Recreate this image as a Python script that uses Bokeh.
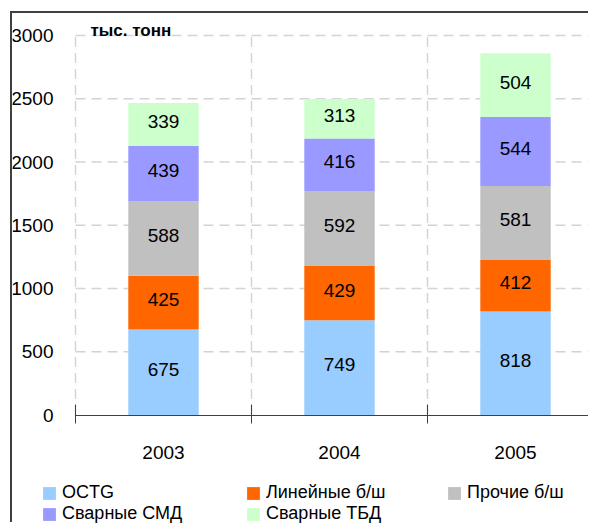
from bokeh.plotting import figure
from bokeh.models import ColumnDataSource, Range1d, FixedTicker, Legend, LegendItem, Label
from bokeh.core.properties import value
from bokeh.embed import file_html
from bokeh.resources import INLINE

# ---- data ----
years = ["2003", "2004", "2005"]
series = ["OCTG", "Линейные б/ш", "Прочие б/ш", "Сварные СМД", "Сварные ТБД"]
octg = [675, 749, 818]
lineynye = [425, 429, 412]
prochie = [588, 592, 581]
svarnye_smd = [439, 416, 544]
svarnye_tbd = [339, 313, 504]
colors = ["#99CCFF", "#FF6600", "#C0C0C0", "#9999FF", "#CCFFCC"]
y_ticks = [0, 500, 1000, 1500, 2000, 2500, 3000]
unit_label = "тыс. тонн"

FONT = "Liberation Sans"
DARK = "#404040"
GRID = "#D4D4D4"

values = [octg, lineynye, prochie, svarnye_smd, svarnye_tbd]
keys = ["s%d" % i for i in range(len(series))]
xs = [i + 0.5 for i in range(len(years))]
bounds = list(range(len(years) + 1))

data = {"x": xs}
for k, v in zip(keys, values):
    data[k] = v
src = ColumnDataSource(data)

# layout: frame covers whole canvas, axes fixed inside it
W, H = 578, 511
px_x = 176.0                     # pixels per category
px_y = 379.5 / 3000.0            # pixels per tonne
left_px, top_px, bottom_px = 63, 22, 109.5
x0 = -left_px / px_x
x1 = (W - left_px) / px_x
y0 = -bottom_px / px_y
y1 = 3000 + top_px / px_y

p = figure(width=W, height=H, x_range=Range1d(x0, x1), y_range=Range1d(y0, y1),
           output_backend="svg", toolbar_location=None,
           min_border_left=0, min_border_right=0, min_border_top=0, min_border_bottom=0)
p.margin = (11, 0, 0, 10)
p.styles = {"border-top": "2px solid " + DARK, "border-left": "2px solid " + DARK}
p.outline_line_color = None
p.background_fill_color = "white"
p.border_fill_color = "white"
p.xgrid.visible = False
p.ygrid.visible = False

# dashed grid from the tick lists
gy = [t for t in y_ticks if t > 0]
p.segment(x0=[0] * len(gy), x1=[x1] * len(gy), y0=gy, y1=gy,
          line_color=GRID, line_width=1.5, line_dash="10 6")
p.segment(x0=bounds, x1=bounds, y0=[0] * len(bounds), y1=[y_ticks[-1]] * len(bounds),
          line_color=GRID, line_width=1.5, line_dash="10 6")

renderers = p.vbar_stack(keys, x="x", width=0.4, source=src, color=colors, line_color=None)

# value labels at segment centres
lx, ly, lt = [], [], []
for j in range(len(years)):
    base = 0
    for v in values:
        lx.append(xs[j])
        ly.append(base + v[j] / 2)
        lt.append(str(v[j]))
        base += v[j]
p.text(x=lx, y=ly, text=lt, text_align="center", text_baseline="middle", y_offset=-3,
       text_font=value(FONT), text_font_size="19px", text_color="black")

# axes
p.xaxis.fixed_location = 0
p.xaxis.bounds = (0, x1)
p.xaxis.ticker = FixedTicker(ticks=xs, minor_ticks=bounds)
p.xaxis.major_label_overrides = {x: y for x, y in zip(xs, years)}
p.xaxis.major_tick_in = 0
p.xaxis.major_tick_out = 0
p.xaxis.minor_tick_in = 11
p.xaxis.minor_tick_out = 8
p.xaxis.minor_tick_line_color = DARK
p.xaxis.axis_line_color = DARK
p.xaxis.major_label_standoff = 23
p.xaxis.major_label_text_font = FONT
p.xaxis.major_label_text_font_size = "19px"
p.xaxis.major_label_text_color = "black"

p.yaxis.fixed_location = 0
p.yaxis.bounds = (0, 3000)
p.yaxis.ticker = FixedTicker(ticks=y_ticks)
p.yaxis.axis_line_color = None
p.yaxis.major_tick_line_color = None
p.yaxis.minor_tick_line_color = None
p.yaxis.major_tick_out = 0
p.yaxis.major_tick_in = 0
p.yaxis.major_label_standoff = 22
p.yaxis.major_label_text_font = FONT
p.yaxis.major_label_text_font_size = "19px"
p.yaxis.major_label_text_color = "black"

p.add_layout(Label(x=0.085, y=3000, y_offset=-4, text=unit_label, text_baseline="bottom",
                   text_font=FONT, text_font_size="17px", text_font_style="bold",
                   text_color="black"))

# legends (three columns), positions = bottom-left relative to frame bottom-left
cols = [[0, 3], [1, 4], [2]]
xpos = [29, 233, 434]
ypos = [0, 0, 21]
for c, xo, yo in zip(cols, xpos, ypos):
    lg = Legend(items=[LegendItem(label=series[i], renderers=[renderers[i]]) for i in c],
                location=(xo, yo), orientation="vertical",
                padding=0, margin=0, spacing=0, label_standoff=5,
                glyph_width=16, glyph_height=16, label_height=16,
                label_text_font=FONT, label_text_font_size="18px", label_text_color="black",
                label_text_baseline="middle",
                border_line_color=None, background_fill_alpha=0)
    p.add_layout(lg, "center")

open("out.html", "w").write(file_html(p, INLINE))
